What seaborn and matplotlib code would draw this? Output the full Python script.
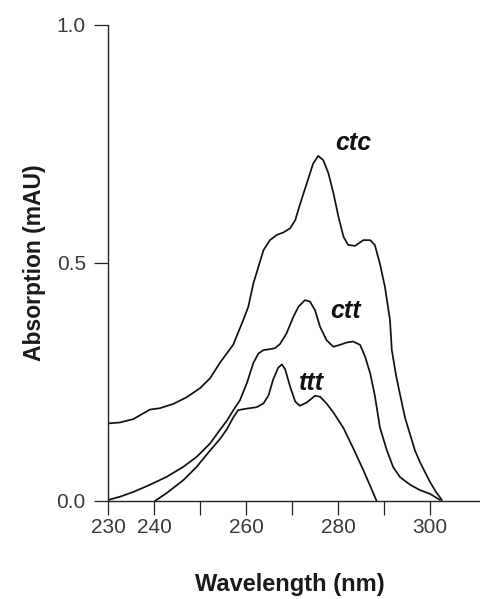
import numpy as np
import pandas as pd
import matplotlib
matplotlib.use("Agg")
import matplotlib.pyplot as plt
import seaborn as sns

# === Data ===
ctc_wl = [230.0, 232.6, 235.5, 239.1, 241.3, 244.2, 247.1, 250.0, 252.2, 254.3,
          257.2, 259.4, 260.5, 261.6, 262.7, 263.8, 265.2, 266.7, 268.1, 269.6,
          270.7, 271.7, 273.2, 274.6, 275.7, 276.8, 277.9, 279.0, 280.1, 281.2,
          282.2, 283.7, 285.5, 287.0, 288.0, 289.1, 290.2, 291.3, 291.7, 292.6,
          293.5, 294.6, 295.7, 296.7, 297.8, 298.9, 300.0, 301.3, 302.6]
ctc_abs = [0.163, 0.165, 0.172, 0.192, 0.195, 0.204, 0.218, 0.237, 0.258, 0.290,
           0.328, 0.380, 0.408, 0.457, 0.492, 0.527, 0.548, 0.559, 0.564, 0.573,
           0.590, 0.622, 0.667, 0.709, 0.725, 0.716, 0.689, 0.647, 0.597, 0.555,
           0.538, 0.536, 0.548, 0.548, 0.538, 0.499, 0.450, 0.380, 0.317, 0.265,
           0.223, 0.174, 0.139, 0.107, 0.082, 0.061, 0.040, 0.019, 0.002]

ctt_wl = [230.0, 232.6, 235.5, 239.1, 242.8, 246.4, 249.3, 252.2, 254.3, 255.8,
          257.2, 258.7, 260.2, 261.6, 262.7, 263.8, 265.2, 266.3, 267.4, 268.8,
          270.3, 271.4, 272.8, 273.9, 275.0, 276.1, 277.5, 279.0, 280.4, 281.9,
          283.3, 284.8, 285.9, 287.0, 288.0, 289.1, 290.6, 292.0, 293.5, 295.7,
          297.8, 300.0, 302.2]
ctt_abs = [0.002, 0.009, 0.019, 0.034, 0.051, 0.072, 0.093, 0.121, 0.149, 0.168,
           0.190, 0.212, 0.248, 0.290, 0.310, 0.317, 0.319, 0.321, 0.330, 0.352,
           0.387, 0.408, 0.422, 0.419, 0.401, 0.366, 0.338, 0.324, 0.328, 0.333,
           0.335, 0.328, 0.303, 0.268, 0.222, 0.155, 0.107, 0.071, 0.050, 0.034,
           0.023, 0.015, 0.002]

ttt_wl = [240.2, 242.8, 246.4, 249.3, 251.5, 252.9, 254.3, 255.8, 257.2, 258.3,
          260.1, 262.3, 263.8, 264.9, 265.9, 267.0, 267.8, 268.5, 269.6, 270.7,
          271.7, 273.2, 275.0, 276.1, 277.5, 279.0, 281.2, 283.3, 285.5, 287.7,
          288.4]
ttt_abs = [0.000, 0.017, 0.044, 0.072, 0.098, 0.114, 0.130, 0.150, 0.175, 0.191,
           0.194, 0.197, 0.205, 0.222, 0.255, 0.280, 0.287, 0.277, 0.240, 0.209,
           0.200, 0.207, 0.221, 0.219, 0.205, 0.186, 0.153, 0.111, 0.065, 0.016,
           0.000]

labels = ["ctc", "ctt", "ttt"]
label_x = [283.3, 281.7, 274.2]
label_y = [0.752, 0.399, 0.248]

x_ticks = [230, 240, 250, 260, 270, 280, 290, 300]
x_ticklabels = ["230", "240", "", "260", "", "280", "", "300"]
y_ticks = [0.0, 0.5, 1.0]
y_ticklabels = ["0.0", "0.5", "1.0"]

df = pd.concat([
    pd.DataFrame({"wl": ctc_wl, "abs": ctc_abs, "isomer": "ctc"}),
    pd.DataFrame({"wl": ctt_wl, "abs": ctt_abs, "isomer": "ctt"}),
    pd.DataFrame({"wl": ttt_wl, "abs": ttt_abs, "isomer": "ttt"}),
])

# === Plot ===
sns.set_style("ticks")
plt.rcParams["font.family"] = ["Liberation Sans", "DejaVu Sans"]

fig = plt.figure(figsize=(4.8, 5.99), dpi=100)
ax = fig.add_axes([108 / 480, 98 / 599, 372 / 480, 476 / 599])

sns.lineplot(data=df, x="wl", y="abs", units="isomer", estimator=None,
             sort=False, color="#111111", linewidth=1.25, ax=ax)
for line in ax.get_lines():
    line.set_solid_joinstyle("round")
    line.set_solid_capstyle("round")

for lab, lx, ly in zip(labels, label_x, label_y):
    ax.text(lx, ly, lab, fontsize=18, fontweight="bold", fontstyle="italic",
            ha="center", va="center", color="#111111")

ax.set_xlim(230, 230 + 372 / 4.6)
ax.set_ylim(0, 1.0)
ax.set_xticks(x_ticks)
ax.set_xticklabels(x_ticklabels)
ax.set_yticks(y_ticks)
ax.set_yticklabels(y_ticklabels)
ax.tick_params(axis="x", direction="out", length=10, width=0.9, pad=2,
               labelsize=15, labelcolor="#3a3a3a", color="#222222")
ax.tick_params(axis="y", direction="out", length=10, width=0.9, pad=6,
               labelsize=15, labelcolor="#3a3a3a", color="#222222")

sns.despine(ax=ax)
for side in ["left", "bottom"]:
    ax.spines[side].set_linewidth(1.0)
    ax.spines[side].set_color("#222222")

ax.set_xlabel("Wavelength (nm)", fontsize=17, fontweight="bold", color="#1a1a1a")
ax.set_ylabel("Absorption (mAU)", fontsize=16.5, fontweight="bold", color="#1a1a1a")
ax.xaxis.set_label_coords(0.488, -0.152)
ax.yaxis.set_label_coords(-0.168, 0.5)

plt.savefig("out.png", dpi=100)
